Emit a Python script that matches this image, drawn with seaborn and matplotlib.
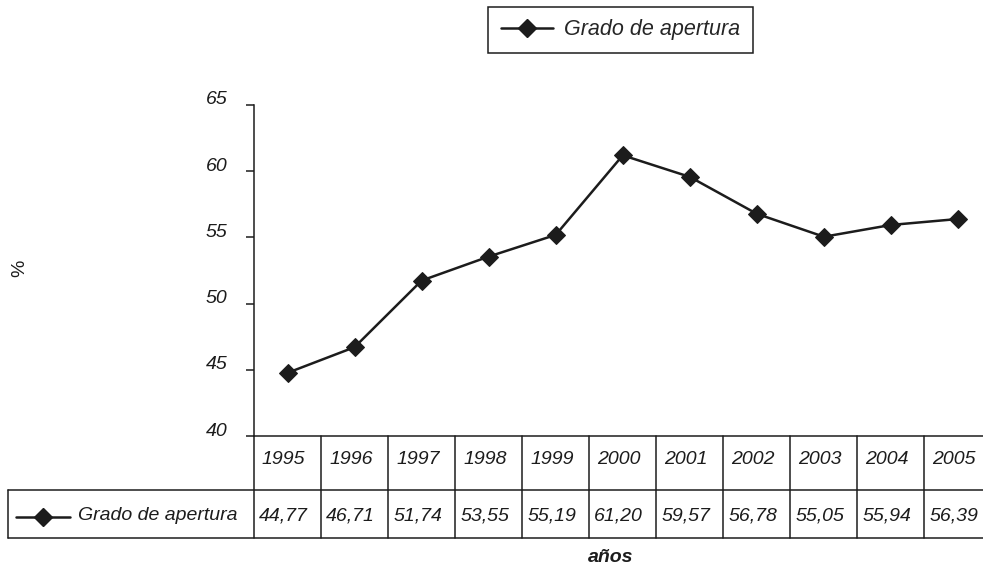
import matplotlib
matplotlib.use('Agg')
import matplotlib.pyplot as plt
from matplotlib.transforms import ScaledTranslation
from matplotlib.lines import Line2D
import seaborn as sns

# data
years = ['1995', '1996', '1997', '1998', '1999', '2000',
         '2001', '2002', '2003', '2004', '2005']
apertura = [44.77, 46.71, 51.74, 53.55, 55.19, 61.20,
            59.57, 56.78, 55.05, 55.94, 56.39]
serie = 'Grado de apertura'
yticks = [40, 45, 50, 55, 60, 65]

sns.set_style('white')
plt.rcParams['font.family'] = ['Liberation Sans', 'DejaVu Sans']
plt.rcParams['font.style'] = 'italic'

W, H = 983, 569
fig = plt.figure(figsize=(W / 100, H / 100), dpi=100)

col_w = 67.05  # px per year column
x0 = 254       # px of the y axis
fs = 14


def fx(px):
    return px / W


def fy(py):
    return 1 - py / H


ink = '#1c1c1c'
ms = 9.5

# main plot
ax = fig.add_axes([fx(x0), fy(436), fx(col_w * 11), 331 / H])
idx = list(range(len(years)))
sns.lineplot(x=idx, y=apertura, ax=ax, color=ink, linewidth=1.8,
             marker='D', markersize=ms, markeredgecolor=ink, label=serie,
             legend=False, clip_on=False)
ax.set_xlim(-0.5, 10.5)
ax.set_ylim(40, 65)
ax.set_yticks(yticks)
ax.set_xticks([])
ax.set_xlabel('')
ax.set_ylabel('')
for s in ['top', 'right']:
    ax.spines[s].set_visible(False)
for s in ['left', 'bottom']:
    ax.spines[s].set_color(ink)
    ax.spines[s].set_linewidth(1.1)
ax.tick_params(axis='y', direction='out', length=6, width=1.1, color=ink,
               pad=13, labelsize=fs, labelcolor=ink, left=True)
shift = ScaledTranslation(0, 7 / 100, fig.dpi_scale_trans)
for lab in ax.get_yticklabels():
    lab.set_transform(lab.get_transform() + shift)
    lab.set_fontstyle('italic')

# data table under the plot
tx_left = -0.5 - (x0 - 8) / col_w
tax = fig.add_axes([fx(8), fy(538), fx(991.5 - 8), 102 / H])
tax.set_xlim(tx_left, 10.5)
tax.set_ylim(538, 436)
tax.axis('off')
lw = 1.1
for i in range(len(years) + 1):
    tax.plot([i - 0.5, i - 0.5], [436, 538], color=ink, lw=lw, clip_on=False)
tax.plot([tx_left, tx_left], [490, 538], color=ink, lw=lw, clip_on=False)
for yy in [490, 538]:
    tax.plot([tx_left, 10.5], [yy, yy], color=ink, lw=lw, clip_on=False)
for i, (yr, v) in enumerate(zip(years, apertura)):
    tax.text(i - 0.5 + 8 / col_w, 459, yr, ha='left', va='center',
             fontsize=fs, style='italic', color=ink)
    tax.text(i - 0.5 + 5 / col_w, 516, f'{v:.2f}'.replace('.', ','),
             ha='left', va='center', fontsize=fs, style='italic', color=ink)
# legend key inside the table
kx = lambda px: -0.5 + (px - x0) / col_w
tax.plot([kx(16), kx(70)], [517, 517], color=ink, lw=1.8, clip_on=False)
tax.plot([kx(43)], [517], marker='D', markersize=ms, color=ink, clip_on=False)
tax.text(kx(78), 516, serie, ha='left', va='center', fontsize=fs,
         style='italic', color=ink)

# legend on top
handle = Line2D([], [], color=ink, lw=1.8, marker='D', markersize=ms)
leg = fig.legend([handle], [serie], loc='center',
                 bbox_to_anchor=(fx(620.5), fy(30)), fontsize=15.5,
                 frameon=True, fancybox=False, edgecolor=ink, framealpha=1,
                 handlelength=2.4, handletextpad=0.5, borderpad=0.6)
leg.get_frame().set_linewidth(1.1)
for t in leg.get_texts():
    t.set_fontstyle('italic')

fig.text(fx(20), fy(268), '%', rotation=90, ha='center', va='center',
         fontsize=14, color=ink, style='normal')
fig.text(fx(611), fy(557), 'años', ha='center', va='center', fontsize=14,
         fontweight='bold', style='italic', color=ink)

fig.savefig('out.png', dpi=100)
